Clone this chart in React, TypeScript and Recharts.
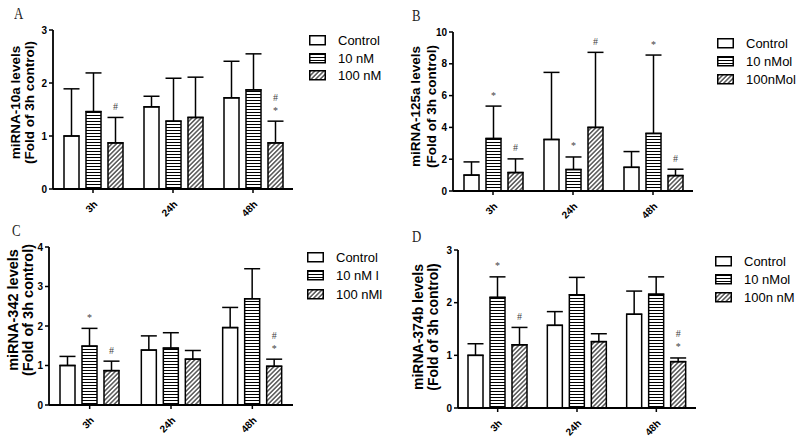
import React from 'react'
import { BarChart, Bar, XAxis, YAxis, ErrorBar, Legend, Label } from 'recharts'

const timepoints = ['3h', '24h', '48h']

// A: miRNA-10a
const mir10aControl = [1.0, 1.55, 1.72]
const mir10aControlSem = [0.89, 0.2, 0.69]
const mir10aLow = [1.46, 1.28, 1.87]
const mir10aLowSem = [0.73, 0.81, 0.68]
const mir10aHigh = [0.87, 1.35, 0.87]
const mir10aHighSem = [0.48, 0.76, 0.41]
const mir10aLowMarks = ['', '', '']
const mir10aHighMarks = ['#', '', '*#']
const mir10aLegend = ['Control', '10 nM', '100 nM']
const mir10aTicks = [0, 1, 2, 3]

// B: miRNA-125a
const mir125aControl = [1.0, 3.24, 1.49]
const mir125aControlSem = [0.83, 4.22, 0.99]
const mir125aLow = [3.3, 1.35, 3.62]
const mir125aLowSem = [2.04, 0.79, 4.93]
const mir125aHigh = [1.16, 4.0, 0.97]
const mir125aHighSem = [0.86, 4.72, 0.4]
const mir125aLowMarks = ['*', '*', '*']
const mir125aHighMarks = ['#', '#', '#']
const mir125aLegend = ['Control', '10 nMol', '100nMol']
const mir125aTicks = [0, 2, 4, 6, 8, 10]

// C: miRNA-342
const mir342Control = [1.0, 1.39, 1.96]
const mir342ControlSem = [0.23, 0.36, 0.51]
const mir342Low = [1.49, 1.44, 2.69]
const mir342LowSem = [0.45, 0.39, 0.76]
const mir342High = [0.87, 1.16, 0.98]
const mir342HighSem = [0.24, 0.22, 0.18]
const mir342LowMarks = ['*', '', '']
const mir342HighMarks = ['#', '', '*#']
const mir342Legend = ['Control', '10 nM l', '100 nMl']
const mir342Ticks = [0, 1, 2, 3, 4]

// D: miRNA-374b
const mir374bControl = [1.0, 1.57, 1.78]
const mir374bControlSem = [0.22, 0.26, 0.44]
const mir374bLow = [2.1, 2.15, 2.16]
const mir374bLowSem = [0.39, 0.33, 0.33]
const mir374bHigh = [1.2, 1.26, 0.88]
const mir374bHighSem = [0.33, 0.15, 0.07]
const mir374bLowMarks = ['*', '', '']
const mir374bHighMarks = ['#', '', '*#']
const mir374bLegend = ['Control', '10 nMol', '100n nM']
const mir374bTicks = [0, 1, 2, 3]

const sans = 'Liberation Sans, Arial, sans-serif'
const serif = 'Liberation Serif, Times New Roman, serif'

function buildRows(
  control: number[], controlSem: number[],
  low: number[], lowSem: number[],
  high: number[], highSem: number[],
  lowMarks: string[], highMarks: string[],
) {
  return timepoints.map((t, i) => ({
    t,
    control: control[i], controlSem: controlSem[i], controlErr: [0, controlSem[i]], controlMarks: '',
    low: low[i], lowSem: lowSem[i], lowErr: [0, lowSem[i]], lowMarks: lowMarks[i],
    high: high[i], highSem: highSem[i], highErr: [0, highSem[i]], highMarks: highMarks[i],
  }))
}

function MarkedBar(props: any) {
  const { x, y, width, height, fill, value, sem, marks } = props
  if (!width || !height) return null
  const ppu = value ? height / value : 0
  const errTop = y - sem * ppu
  const cx = x + width / 2
  return (
    <g>
      <rect x={x} y={y} width={width} height={height} fill={fill} stroke="#000" strokeWidth={1.5} />
      {String(marks || '').split('').map((m, k) => (
        <text key={k} x={cx} y={errTop - 11 - 13 * k} textAnchor="middle" dominantBaseline="central"
          fontSize={10} fontFamily={serif} fill="#444">{m}</text>
      ))}
    </g>
  )
}

function XTick({ x, y, payload }: any) {
  return (
    <g transform={`translate(${x + 5},${y + 12})`}>
      <text x={0} y={0} textAnchor="end" transform="rotate(-45)" fontSize={10} fontWeight={700}
        fontFamily={sans} fill="#000">{payload.value}</text>
    </g>
  )
}

interface PanelProps {
  id: string
  letter: string
  left: number
  top: number
  rows: any[]
  ticks: number[]
  names: string[]
  title: string
  plot: { l: number; r: number; t: number; b: number }
  label: { x1: number; x2: number; dy: number; size: number }
  legend: { left: number; top: number; row: number }
  letterPos: { x: number; y: number }
}

function Panel(p: PanelProps) {
  const fills = ['#fff', `url(#h-${p.id})`, `url(#d-${p.id})`]
  const keys = ['control', 'low', 'high']
  return (
    <div style={{ position: 'absolute', left: p.left, top: p.top, width: 400, height: 222 }}>
      <div style={{ position: 'absolute', left: p.letterPos.x, top: p.letterPos.y, fontFamily: serif, fontSize: 16, lineHeight: '16px', color: '#222', transform: 'scaleX(0.8)', transformOrigin: 'left' }}>
        {p.letter}
      </div>
      <BarChart width={400} height={222} data={p.rows} barSize={15} barGap={7} style={{ overflow: 'visible' }}
        margin={{ top: p.plot.t, right: 400 - p.plot.r, bottom: 0, left: 0 }}>
        <defs>
          <pattern id={`h-${p.id}`} width={4} height={3} patternUnits="userSpaceOnUse">
            <rect width={4} height={3} fill="#fff" />
            <line x1={0} y1={1.5} x2={4} y2={1.5} stroke="#000" strokeWidth={1} />
          </pattern>
          <pattern id={`d-${p.id}`} width={3.2} height={3.2} patternUnits="userSpaceOnUse" patternTransform="rotate(45)">
            <rect width={3.2} height={3.2} fill="#fff" />
            <line x1={1.6} y1={0} x2={1.6} y2={3.2} stroke="#000" strokeWidth={1} />
          </pattern>
        </defs>
        <XAxis dataKey="t" height={222 - p.plot.b} interval={0} tickSize={4} tickMargin={0}
          axisLine={{ stroke: '#000', strokeWidth: 1.8 }} tickLine={{ stroke: '#000', strokeWidth: 1.5 }}
          tick={<XTick />} />
        <YAxis width={p.plot.l} domain={[0, p.ticks[p.ticks.length - 1]]} ticks={p.ticks} interval={0}
          tickSize={4} tickMargin={2} axisLine={{ stroke: '#000', strokeWidth: 1.8 }}
          tickLine={{ stroke: '#000', strokeWidth: 1.5 }}
          tick={{ fontSize: 10, fontWeight: 700, fill: '#000', fontFamily: sans }}>
          <Label content={(lp: any) => {
            const vb = lp.viewBox || {}
            const cy = (vb.y ?? p.plot.t) + (vb.height ?? (p.plot.b - p.plot.t)) / 2 + p.label.dy
            return (
              <g fontFamily={sans} fontWeight={700} fontSize={p.label.size} fill="#000">
                <text x={p.label.x1} y={cy} textAnchor="middle" dominantBaseline="central"
                  transform={`rotate(-90 ${p.label.x1} ${cy})`}>{p.title}</text>
                <text x={p.label.x2} y={cy} textAnchor="middle" dominantBaseline="central"
                  transform={`rotate(-90 ${p.label.x2} ${cy})`}>(Fold of 3h control)</text>
              </g>
            )
          }} />
        </YAxis>
        <Legend layout="vertical" align="center" verticalAlign="middle"
          wrapperStyle={{ left: p.legend.left, top: p.legend.top, width: 90 }}
          content={() => (
            <div style={{ fontFamily: sans, fontSize: 13, color: '#000' }}>
              {p.names.map((n, i) => (
                <div key={n} style={{ display: 'flex', alignItems: 'center', height: p.legend.row }}>
                  <svg width={17} height={11} style={{ marginRight: 12 }}>
                    <rect x={0.75} y={0.75} width={15.5} height={9} fill={fills[i]} stroke="#000" strokeWidth={1.5} />
                  </svg>
                  <span style={{ whiteSpace: 'nowrap' }}>{n}</span>
                </div>
              ))}
            </div>
          )} />
        {keys.map((k, i) => (
          <Bar key={k} dataKey={k} fill={fills[i]} isAnimationActive={false}
            shape={(bp: any) => (
              <MarkedBar {...bp} value={bp.payload[k]} sem={bp.payload[`${k}Sem`]} marks={bp.payload[`${k}Marks`]} />
            )}>
            <ErrorBar dataKey={`${k}Err`} width={8} stroke="#000" strokeWidth={1.5} direction="y" />
          </Bar>
        ))}
      </BarChart>
    </div>
  )
}

export default function App() {
  return (
    <div style={{ position: 'absolute', left: 0, top: 0, width: 800, height: 444, background: '#fff' }}>
      <Panel id="a" letter="A" left={0} top={0} title="miRNA-10a levels"
        rows={buildRows(mir10aControl, mir10aControlSem, mir10aLow, mir10aLowSem, mir10aHigh, mir10aHighSem, mir10aLowMarks, mir10aHighMarks)}
        ticks={mir10aTicks} names={mir10aLegend}
        plot={{ l: 53, r: 293, t: 30, b: 189 }}
        label={{ x1: 15, x2: 29, dy: -7, size: 13.5 }}
        legend={{ left: 309, top: 32, row: 17.5 }}
        letterPos={{ x: 14, y: 6 }} />
      <Panel id="b" letter="B" left={400} top={0} title="miRNA-125a levels"
        rows={buildRows(mir125aControl, mir125aControlSem, mir125aLow, mir125aLowSem, mir125aHigh, mir125aHighSem, mir125aLowMarks, mir125aHighMarks)}
        ticks={mir125aTicks} names={mir125aLegend}
        plot={{ l: 53, r: 293, t: 32, b: 191 }}
        label={{ x1: 15, x2: 31, dy: -5, size: 13.5 }}
        legend={{ left: 317, top: 34, row: 18 }}
        letterPos={{ x: 12, y: 8 }} />
      <Panel id="c" letter="C" left={0} top={222} title="miRNA-342 levels"
        rows={buildRows(mir342Control, mir342ControlSem, mir342Low, mir342LowSem, mir342High, mir342HighSem, mir342LowMarks, mir342HighMarks)}
        ticks={mir342Ticks} names={mir342Legend}
        plot={{ l: 49, r: 293, t: 25, b: 183 }}
        label={{ x1: 13, x2: 28, dy: -16, size: 14.5 }}
        legend={{ left: 307, top: 26, row: 18.5 }}
        letterPos={{ x: 12, y: 1 }} />
      <Panel id="d" letter="D" left={400} top={222} title="miRNA-374b levels"
        rows={buildRows(mir374bControl, mir374bControlSem, mir374bLow, mir374bLowSem, mir374bHigh, mir374bHighSem, mir374bLowMarks, mir374bHighMarks)}
        ticks={mir374bTicks} names={mir374bLegend}
        plot={{ l: 58, r: 296, t: 28, b: 186 }}
        label={{ x1: 18, x2: 33, dy: -2, size: 14 }}
        legend={{ left: 315, top: 30, row: 18 }}
        letterPos={{ x: 12, y: 7 }} />
    </div>
  )
}
